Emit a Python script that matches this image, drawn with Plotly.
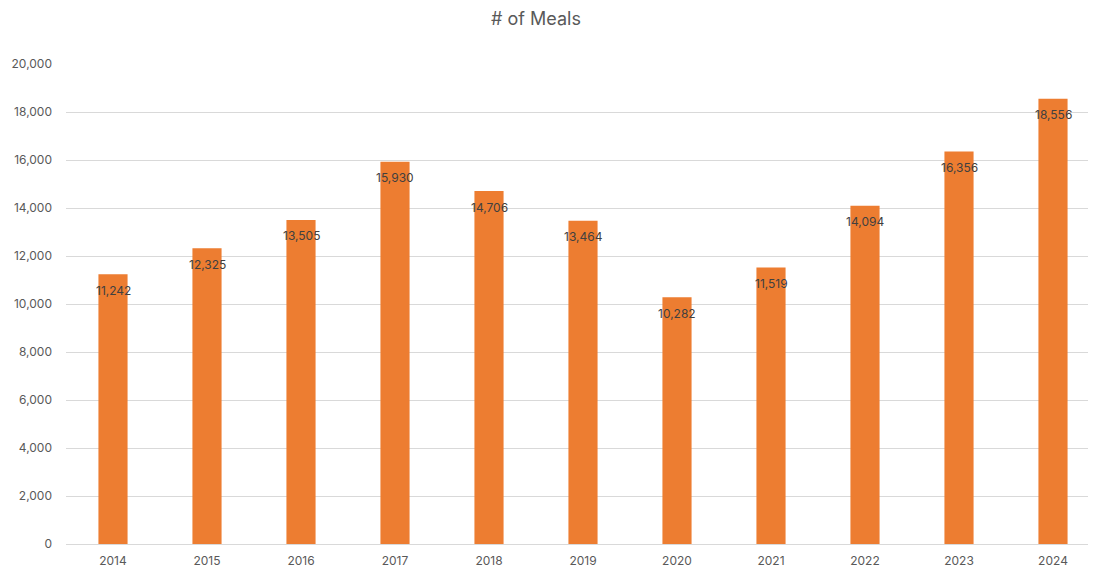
import plotly.graph_objects as go

years = ["2014", "2015", "2016", "2017", "2018", "2019", "2020", "2021", "2022", "2023", "2024"]
meals = [11242, 12325, 13505, 15930, 14706, 13464, 10282, 11519, 14094, 16356, 18556]
y_ticks = [0, 2000, 4000, 6000, 8000, 10000, 12000, 14000, 16000, 18000, 20000]

fig = go.Figure()
fig.add_trace(go.Bar(
    x=years, y=meals,
    marker=dict(color="#ED7D31", line=dict(width=0)),
    hoverinfo="x+y",
))

for i, v in enumerate(meals):
    fig.add_annotation(x=i, y=v, xref="x", yref="y", text=f"{v:,}", showarrow=False,
                       yanchor="middle", yshift=-16,
                       font=dict(size=12, color="#404040", family="Inter, Open Sans, sans-serif"))

fig.update_layout(
    width=1096, height=571,
    margin=dict(l=58, r=4, t=56, b=35),
    paper_bgcolor="white", plot_bgcolor="white",
    bargap=0.69,
    showlegend=False,
    title=dict(text="# of Meals", x=528 / 1096, xanchor="center", y=1 - 11 / 571, yanchor="middle",
               font=dict(size=18, color="#595959", family="Inter, Open Sans, sans-serif")),
    font=dict(family="Inter, Open Sans, sans-serif", color="#595959", size=12),
    xaxis=dict(type="category", range=[-0.5, 10.5], showgrid=False, showline=False,
               ticks="", ticklabelstandoff=8, tickfont=dict(size=12, color="#595959")),
    yaxis=dict(range=[0, 20000], tickvals=y_ticks, tickformat=",", showgrid=True,
               gridcolor="#D9D9D9", gridwidth=1, zeroline=True, zerolinecolor="#D9D9D9",
               zerolinewidth=1, showline=False, ticks="", ticklabelstandoff=13,
               tickfont=dict(size=12, color="#595959")),
)

fig.write_html("out.html")
